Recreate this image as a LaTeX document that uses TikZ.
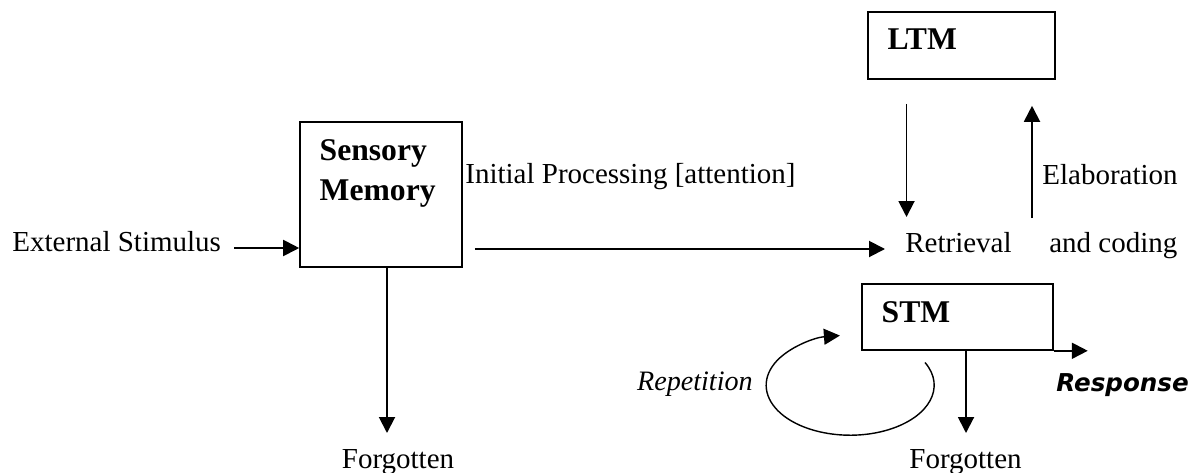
\documentclass[tikz,border=0pt]{standalone}
\usepackage{fontspec}
\setmainfont{Liberation Serif}
\newfontfamily\respfont{DejaVu Sans Bold Oblique}
\usepackage{tikz}
\usetikzlibrary{arrows.meta, positioning, calc}

\begin{document}
\begin{tikzpicture}[>={Triangle[length=0.32cm, width=0.32cm]},
    box/.style={rectangle, draw, line width=0.9pt, inner sep=0pt},
    title/.style={anchor=north west, align=left, inner xsep=0.41cm, inner ysep=0.36cm, outer sep=0pt,
        font=\fontsize{18}{22.8}\selectfont\bfseries},
    txt/.style={inner sep=0pt, font=\fontsize{16.5}{20}\selectfont},
    flow/.style={->, line width=1.1pt}]
    \useasboundingbox (0,0) rectangle (23.88,-9.44);

    % the three stores
    \node (sensory) [box, minimum width=3.24cm, minimum height=2.9cm,
        label={[title, label distance=0pt]north west:Sensory\\Memory}] at (7.62,-3.89) {};
    \node (ltm) [box, minimum width=3.74cm, minimum height=1.34cm,
        label={[title, label distance=0pt]north west:LTM}] at (19.23,-0.91) {};
    \node (stm) [box, minimum width=3.82cm, minimum height=1.32cm,
        label={[title, label distance=0pt]north west:STM}] at (19.15,-6.34) {};

    % texts
    \node (stimulus) [txt, anchor=base west] at (0.24,-5.02) {External Stimulus};
    \node (initial) [txt, anchor=base west] at (9.30,-3.66) {Initial Processing [attention]};
    \node (retrieval) [txt, anchor=base west] at (18.10,-5.04) {Retrieval};
    \node (coding) [txt, anchor=base west] at (20.98,-5.04) {and coding};
    \node (elaboration) [txt, anchor=base west] at (20.84,-3.68) {Elaboration};
    \node (repetition) [txt, anchor=base east, font=\fontsize{16}{20}\selectfont\itshape] at (15.06,-7.80) {Repetition};
    \node (response) [inner sep=0pt, anchor=base west, font=\fontsize{14}{17}\respfont] at (21.12,-7.82) {Response};
    \node (forgotA) [txt, anchor=base] at (7.96,-9.36) {Forgotten};
    \node (forgotB) [txt, anchor=base] at (19.31,-9.36) {Forgotten};

    % connectors
    \draw[flow] ($(stimulus.base east)+(0.26,0.06)$) -- ($(stimulus.base -| sensory.west)+(0,0.06)$);
    \draw[flow] ($(retrieval.base -| sensory.east)+(0.24,0.06)$) -- ($(retrieval.base west)+(-0.40,0.06)$);
    \draw[flow] ($(retrieval.base west |- ltm.south)+(0.03,-0.48)$) -- ($(retrieval.base west)+(0.03,0.70)$);
    \draw[flow] ($(coding.base west)+(-0.34,0.68)$) -- ($(coding.base west |- ltm.south)+(-0.34,-0.52)$);
    \draw[flow] ($(sensory.south)+(0.12,0)$) -- ($(sensory.south |- forgotA.base)+(0.12,0.70)$);
    \draw[flow] ($(stm.south)+(0.17,0)$) -- ($(stm.south |- forgotB.base)+(0.17,0.70)$);
    \draw[flow] (stm.south east) -- ([xshift=0.68cm]stm.south east);

    % rehearsal loop
    \coordinate (loopstart) at (18.50,-7.25);
    \draw[->, line width=0.8pt] (loopstart) arc[start angle=27, end angle=-263, x radius=1.68cm, y radius=1cm];
\end{tikzpicture}
\end{document}
